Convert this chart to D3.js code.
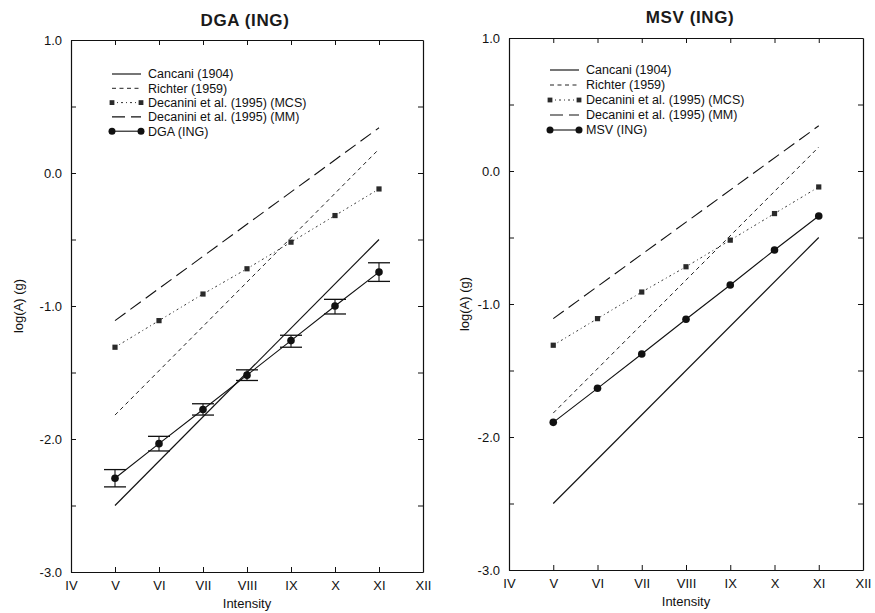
<!DOCTYPE html>
<html>
<head>
<meta charset="utf-8">
<script src="https://cdn.jsdelivr.net/npm/d3@7/dist/d3.min.js"></script>
<style>
  html, body { margin: 0; padding: 0; background: #fff; }
  svg { display: block; font-family: "Liberation Sans", Arial, Helvetica, sans-serif; }
</style>
</head>
<body>
<svg id="chart" width="875" height="613"></svg>
<script>
// ---- data ----
const intensityTicks = [4, 5, 6, 7, 8, 9, 10, 11, 12];
const intensityLabels = ["IV", "V", "VI", "VII", "VIII", "IX", "X", "XI", "XII"];
const intensities = [5, 6, 7, 8, 9, 10, 11];
const lineEndIntensities = [5, 11];
const yTicks = [-3, -2.5, -2, -1.5, -1, -0.5, 0, 0.5, 1];

const cancaniEnds = [-2.5, -0.5];          // Cancani (1904)
const richterEnds = [-1.82, 0.18];         // Richter (1959)
const decaniniMMEnds = [-1.11, 0.34];      // Decanini et al. (1995) (MM)
const decaniniMCS = [-1.31, -1.11, -0.91, -0.72, -0.52, -0.32, -0.12];

const dgaValues = [-2.295, -2.035, -1.778, -1.52, -1.26, -1.0, -0.745];
const dgaHigh   = [-2.23, -1.98, -1.735, -1.48, -1.22, -0.95, -0.675];
const dgaLow    = [-2.36, -2.09, -1.82, -1.56, -1.31, -1.06, -0.815];

const msvValues = [-1.89, -1.634, -1.376, -1.115, -0.857, -0.594, -0.338];

const legendLabelsCommon = ["Cancani (1904)", "Richter (1959)", "Decanini et al. (1995) (MCS)", "Decanini et al. (1995) (MM)"];

// ---- panels ----
const panels = [
  { title: "DGA (ING)", own: dgaValues, hi: dgaHigh, lo: dgaLow,
    x0: 71, x1: 423, yTop: 40, yBot: 572, titleX: 245, titleY: 26,
    legX: 112, legY: 74, legDy: 14.3, ylabX: 18 },
  { title: "MSV (ING)", own: msvValues, hi: null, lo: null,
    x0: 509, x1: 863, yTop: 38, yBot: 570, titleX: 690, titleY: 23,
    legX: 550, legY: 70, legDy: 15, ylabX: 464 }
];

const svg = d3.select("#chart");
const ink = "#111";

const styles = {
  cancani: { dash: null, color: ink, width: 1.15 },
  richter: { dash: "4,3.5", color: "#222", width: 1 },
  mm: { dash: "13,6", color: ink, width: 1.1 },
  mcs: { dash: "2,3,1,3", color: "#333", width: 1 }
};

const tickFmt = v => Number.isInteger(v) ? d3.format(".1f")(v).replace("\u2212", "-") : "";

panels.forEach(p => {
  const g = svg.append("g");
  const x = d3.scaleLinear().domain([4, 12]).range([p.x0, p.x1]);
  const y = d3.scaleLinear().domain([-3, 1]).range([p.yBot, p.yTop]);

  const left = d3.axisLeft(y).tickValues(yTicks).tickFormat(tickFmt).tickSizeInner(-5).tickSizeOuter(0).tickPadding(9);
  const right = d3.axisRight(y).tickValues(yTicks).tickFormat("").tickSizeInner(-5).tickSizeOuter(0);
  const bottom = d3.axisBottom(x).tickValues(intensityTicks).tickFormat((d, i) => intensityLabels[i]).tickSizeInner(-5).tickSizeOuter(0).tickPadding(9);
  const top = d3.axisTop(x).tickValues(intensities).tickFormat("").tickSizeInner(-5).tickSizeOuter(0);

  const ga = g.append("g").attr("transform", `translate(${p.x0},0)`).call(left);
  g.append("g").attr("transform", `translate(${p.x1},0)`).call(right);
  const gb = g.append("g").attr("transform", `translate(0,${p.yBot})`).call(bottom);
  g.append("g").attr("transform", `translate(0,${p.yTop})`).call(top);
  g.selectAll(".domain").attr("stroke", ink).attr("stroke-width", 1.2);
  g.selectAll(".tick line").attr("stroke", ink).attr("stroke-width", 1);
  ga.selectAll("text").attr("font-size", 13).attr("fill", ink).style("font-family", "inherit");
  gb.selectAll("text").attr("font-size", 13).attr("fill", ink).style("font-family", "inherit");
  gb.selectAll(".tick line").filter(d => d === 4 || d === 12).remove();

  // titles
  g.append("text").attr("x", p.titleX).attr("y", p.titleY).attr("text-anchor", "middle")
    .attr("font-size", 17).attr("font-weight", "bold").attr("letter-spacing", 0.6)
    .attr("fill", "#1a1a1a").text(p.title);
  g.append("text").attr("x", (p.x0 + p.x1) / 2).attr("y", p.yBot + 36).attr("text-anchor", "middle")
    .attr("font-size", 13).attr("fill", ink).text("Intensity");
  g.append("text").attr("transform", `translate(${p.ylabX},${(p.yTop + p.yBot) / 2}) rotate(-90)`)
    .attr("text-anchor", "middle").attr("dy", "0.35em")
    .attr("font-size", 13).attr("fill", ink).text("log(A) (g)");

  const line = d3.line().x(d => x(d[0])).y(d => y(d[1]));
  const drawLine = (xs, ys, st) => g.append("path")
    .attr("d", line(xs.map((v, i) => [v, ys[i]])))
    .attr("fill", "none").attr("stroke", st.color).attr("stroke-width", st.width)
    .attr("stroke-dasharray", st.dash);

  drawLine(lineEndIntensities, cancaniEnds, styles.cancani);
  drawLine(lineEndIntensities, richterEnds, styles.richter);
  drawLine(lineEndIntensities, decaniniMMEnds, styles.mm);
  drawLine(intensities, decaniniMCS, styles.mcs);

  g.selectAll(null).data(intensities).enter().append("rect")
    .attr("x", d => x(d) - 2.6).attr("y", (d, i) => y(decaniniMCS[i]) - 2.6)
    .attr("width", 5.2).attr("height", 5.2).attr("fill", "#2a2a2a");

  drawLine(intensities, p.own, { color: ink, width: 1.1, dash: null });
  if (p.hi) {
    intensities.forEach((d, i) => {
      const cx = x(d);
      g.append("line").attr("x1", cx).attr("x2", cx).attr("y1", y(p.hi[i])).attr("y2", y(p.lo[i]))
        .attr("stroke", ink).attr("stroke-width", 1.1);
      [p.hi[i], p.lo[i]].forEach(v => g.append("line")
        .attr("x1", cx - 11).attr("x2", cx + 11).attr("y1", y(v)).attr("y2", y(v))
        .attr("stroke", ink).attr("stroke-width", 1.3));
    });
  }
  g.selectAll(null).data(intensities).enter().append("circle")
    .attr("cx", d => x(d)).attr("cy", (d, i) => y(p.own[i])).attr("r", 3.8).attr("fill", ink);

  // legend
  const labels = legendLabelsCommon.concat([p.title]);
  const lx0 = p.legX, lx1 = p.legX + 29;
  const legStyles = [styles.cancani, styles.richter, styles.mcs, styles.mm, { color: ink, width: 1.1, dash: null }];
  labels.forEach((lab, i) => {
    const ly = p.legY + i * p.legDy;
    g.append("line").attr("x1", lx0).attr("x2", lx1).attr("y1", ly).attr("y2", ly)
      .attr("stroke", legStyles[i].color).attr("stroke-width", legStyles[i].width)
      .attr("stroke-dasharray", legStyles[i].dash);
    if (i === 2) {
      [lx0, lx1].forEach(cx => g.append("rect").attr("x", cx - 2.4).attr("y", ly - 2.4)
        .attr("width", 4.8).attr("height", 4.8).attr("fill", "#2a2a2a"));
    }
    if (i === 4) {
      [lx0, lx1].forEach(cx => g.append("circle").attr("cx", cx).attr("cy", ly).attr("r", 3.5).attr("fill", ink));
    }
    g.append("text").attr("x", lx1 + 7).attr("y", ly).attr("dy", "0.35em")
      .attr("font-size", 12.5).attr("fill", ink).text(lab);
  });
});
</script>
</body>
</html>
